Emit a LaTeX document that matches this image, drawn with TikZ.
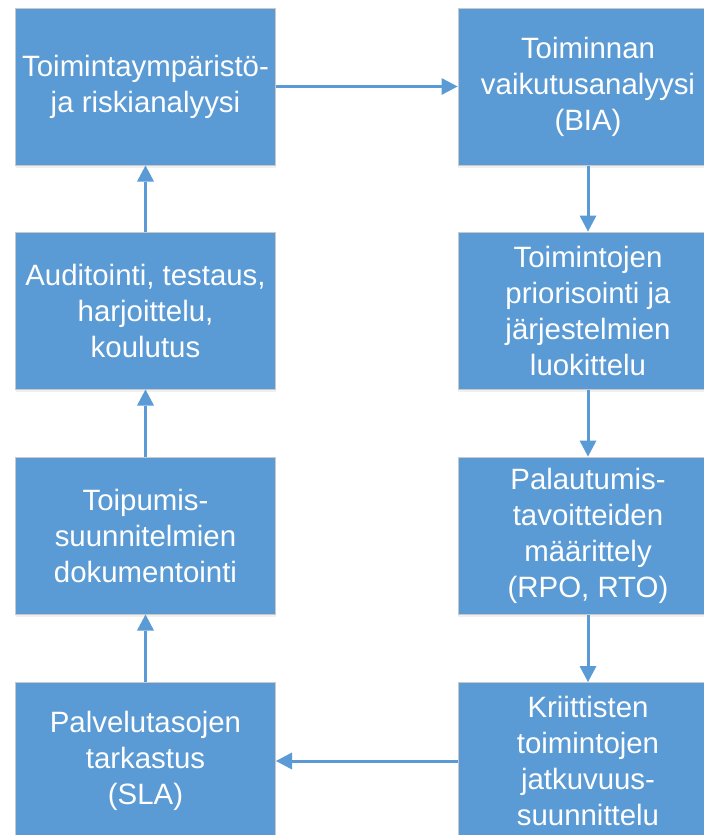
\documentclass[tikz,border=0pt]{standalone}
\usepackage{fontspec}
\setmainfont{Liberation Sans}
\usetikzlibrary{arrows.meta,shadows}
\definecolor{stepblue}{HTML}{5B9BD5}
\definecolor{stepedge}{HTML}{C9C9C9}
\begin{document}
\begin{tikzpicture}[x=0.5pt,y=-0.5pt]
        \tikzstyle{phase}=[rectangle,draw=stepedge,line width=0.5pt,fill=stepblue,text=white,align=center,
                           minimum width=130pt,minimum height=78.5pt,inner sep=0pt,
                           font=\fontsize{14.7}{18}\selectfont,
                           drop shadow={opacity=0.12,shadow xshift=0pt,shadow yshift=-1.5pt}]
        \tikzstyle{flow}=[draw=stepblue,line width=1.5pt,-{Triangle[width=8.5pt,length=8pt,line width=0pt]}]
        \useasboundingbox (0,0) rectangle (704,835);
        \clip (0,0) rectangle (704,835);

        % left column
        \node [phase] (env)   at (145.5,86.5)  {Toimintaympäristö-\\ja riskianalyysi};
        \node [phase] (audit) at (145.5,310.5) {Auditointi, testaus,\\harjoittelu,\\koulutus};
        \node [phase] (docs)  at (145.5,535.5) {Toipumis-\\suunnitelmien\\dokumentointi};
        \node [phase] (sla)   at (145.5,761)   {Palvelutasojen\\tarkastus\\(SLA)};

        % right column
        \node [phase] (bia)   at (588,86.5)  {Toiminnan\\vaikutusanalyysi\\(BIA)};
        \node [phase] (prio)  at (588,310.5) {Toimintojen\\priorisointi ja\\järjestelmien\\luokittelu};
        \node [phase] (rto)   at (588,535.5) {Palautumis-\\tavoitteiden\\määrittely\\(RPO, RTO)};
        \node [phase] (cont)  at (588,761)   {Kriittisten\\toimintojen\\jatkuvuus-\\suunnittelu};

        \draw[flow] (env) -- (bia);
        \draw[flow] (bia) -- (prio);
        \draw[flow] (prio) -- (rto);
        \draw[flow] (rto) -- (cont);
        \draw[flow] (cont) -- (sla);
        \draw[flow] (sla) -- (docs);
        \draw[flow] (docs) -- (audit);
        \draw[flow] (audit) -- (env);
\end{tikzpicture}
\end{document}
